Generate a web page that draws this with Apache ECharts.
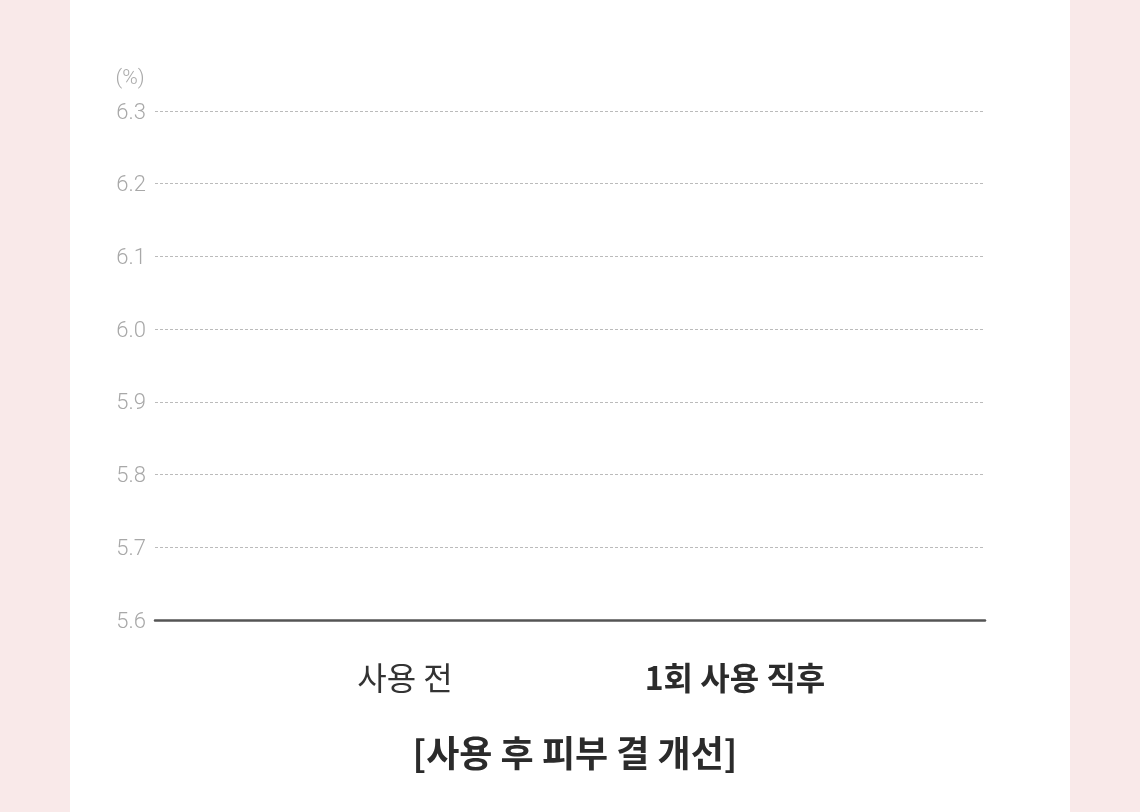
<!DOCTYPE html>
<html>
<head>
<meta charset="utf-8">
<script src="https://cdn.jsdelivr.net/npm/echarts@6/dist/echarts.min.js"></script>
<style>
  html, body { margin: 0; padding: 0; width: 1140px; height: 812px; background: #f9e9e9; overflow: hidden; }
  #chart { position: absolute; left: 70px; top: 0; width: 1000px; height: 812px; background: #ffffff; }
</style>
</head>
<body>
<div id="chart"></div>
<script>
const categories = ['사용 전', '1회 사용 직후'];
// The reference shows no visible bars above the 5.6 baseline
const values = [null, null];
const yTicks = [5.6, 5.7, 5.8, 5.9, 6.0, 6.1, 6.2, 6.3];
const titleText = '[사용 후 피부 결 개선]';
const unitText = '(%)';

const FONT = '"Noto Sans CJK KR", "Noto Sans", sans-serif';
const NUMFONT = 'Roboto, "Noto Sans", sans-serif';
const chart = echarts.init(document.getElementById('chart'));

chart.setOption({
  animation: false,
  title: {
    text: titleText,
    left: '50%',
    top: 730,
    textAlign: 'center',
    textStyle: { fontFamily: FONT, fontSize: 36, fontWeight: 'bold', color: '#2b2b2b' }
  },
  grid: [
    { left: 85, right: 85, top: 111, bottom: 192 },
    { left: 170, right: 170, top: 111, bottom: 192 }
  ],
  xAxis: [
    {
      gridIndex: 0, type: 'category', data: categories,
      axisLine: { show: true, lineStyle: { color: '#555555', width: 2.5 } },
      axisTick: { show: false }, axisLabel: { show: false }, splitLine: { show: false }
    },
    {
      gridIndex: 1, type: 'category', data: categories,
      axisLine: { show: false }, axisTick: { show: false },
      axisLabel: {
        margin: 42,
        fontFamily: FONT,
        formatter: (v, i) => i === 1 ? '{b|' + v + '}' : '{n|' + v + '}',
        rich: {
          n: { fontFamily: FONT, fontSize: 32, color: '#333333', fontWeight: 'normal' },
          b: { fontFamily: FONT, fontSize: 32, color: '#2b2b2b', fontWeight: 'bold' }
        }
      }
    }
  ],
  yAxis: [
    {
      gridIndex: 0, type: 'value',
      min: yTicks[0], max: yTicks[yTicks.length - 1], interval: 0.1,
      name: unitText, nameLocation: 'end', nameGap: 22,
      nameTextStyle: { fontFamily: NUMFONT, fontSize: 21, fontWeight: 300, color: '#aaaaaa', padding: [0, 50, 0, 0] },
      axisLine: { show: false }, axisTick: { show: false },
      axisLabel: {
        margin: 9,
        formatter: v => '{t|' + (+v).toFixed(1) + '}',
        rich: {
          t: { fontFamily: NUMFONT, fontSize: 22, fontWeight: 300, color: '#a8a8a8', padding: [4, 0, 0, 0] }
        }
      },
      splitLine: { show: true, lineStyle: { color: '#bbbbbb', type: [3, 2], width: 1 } }
    },
    {
      gridIndex: 1, type: 'value',
      min: yTicks[0], max: yTicks[yTicks.length - 1], interval: 0.1,
      show: false, splitLine: { show: false }
    }
  ],
  series: [
    {
      type: 'bar', xAxisIndex: 1, yAxisIndex: 1,
      data: values, barWidth: 80,
      itemStyle: { color: '#e8a0a0' }
    }
  ]
});
</script>
</body>
</html>
